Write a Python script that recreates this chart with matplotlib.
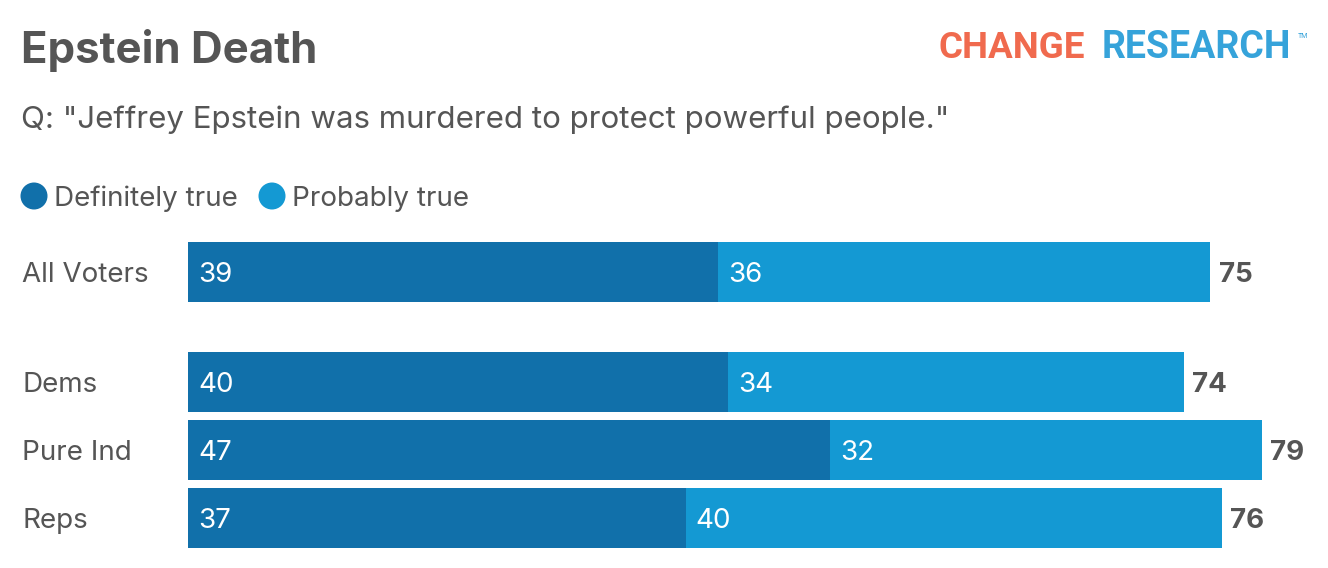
import matplotlib.pyplot as plt
from matplotlib.patches import Ellipse
from matplotlib.transforms import offset_copy

categories = ["All Voters", "Dems", "Pure Ind", "Reps"]
# bar lengths (labels below are the printed, rounded numbers)
definitely = [39.1, 39.8, 47.35, 36.7]
probably = [36.3, 33.65, 31.85, 39.55]
definitely_lbl = [39, 40, 47, 37]
probably_lbl = [36, 34, 32, 40]
totals_lbl = [75, 74, 79, 76]
series_names = ["Definitely true", "Probably true"]

DARK = "#1170aa"
LIGHT = "#1499d3"
GRAY = "#555555"
FONT = "Inter"

W, H = 1328, 568
fig = plt.figure(figsize=(W / 100, H / 100), dpi=100)

# bar rows: 68px pitch, extra 42px gap under "All Voters"
ypos = [3 + 42 / 68, 2, 1, 0]
bar_h = 60 / 68

px_per = 13.56
ax_left, ax_right = 188, 1318
ax_top, ax_bot = 242, 548
ax = fig.add_axes([ax_left / W, 1 - ax_bot / H, (ax_right - ax_left) / W, (ax_bot - ax_top) / H])
ax.set_xlim(0, (ax_right - ax_left) / px_per)
ax.set_ylim(-bar_h / 2, ypos[0] + bar_h / 2)
ax.axis("off")

ax.barh(ypos, definitely, height=bar_h, color=DARK, linewidth=0)
ax.barh(ypos, probably, left=definitely, height=bar_h, color=LIGHT, linewidth=0)

# put baselines ~10px under the row centre
tr = offset_copy(ax.transData, fig=fig, y=-10, units="dots")
for y, d, p, dl, pl, tl in zip(ypos, definitely, probably, definitely_lbl, probably_lbl, totals_lbl):
    ax.text(0.75, y, str(dl), color="white", fontsize=20, family=FONT, va="baseline", transform=tr)
    ax.text(d + 0.75, y, str(pl), color="white", fontsize=20, family=FONT, va="baseline", transform=tr)
    ax.text(d + p + 0.6, y, str(tl), color=GRAY, fontsize=20, family=FONT, fontweight="bold",
            va="baseline", transform=tr)

for y, c in zip(ypos, categories):
    ax.text(-166 / px_per, y, c, color=GRAY, fontsize=20, family=FONT, va="baseline", transform=tr)

# title / subtitle
fig.text(21 / W, 1 - 63 / H, "Epstein Death", color=GRAY, fontsize=31.5, family=FONT,
         fontweight="bold", va="baseline")
fig.text(21 / W, 1 - 128 / H, 'Q: "Jeffrey Epstein was murdered to protect powerful people."',
         color=GRAY, fontsize=22.5, family=FONT, va="baseline")

# legend
leg_x = [34, 272]
for lx, name, col in zip(leg_x, series_names, [DARK, LIGHT]):
    fig.patches.append(Ellipse((lx / W, 1 - 196 / H), 27 / W, 27 / H, transform=fig.transFigure,
                               color=col, linewidth=0))
    fig.text((lx + 20) / W, 1 - 206 / H, name, color=GRAY, fontsize=20, family=FONT,
             va="baseline")

# logo
fig.text(939 / W, 1 - 58 / H, "CHANGE", color="#f06a4e", fontsize=26.5, family="Roboto",
         fontweight="bold", va="baseline")
fig.text(1102 / W, 1 - 58 / H, "RESEARCH", color="#36a3da", fontsize=27, family="Roboto",
         fontweight="bold", va="baseline")
fig.text(1298 / W, 1 - 38 / H, "TM", color="#36a3da", fontsize=5, family="Roboto",
         va="baseline")

fig.savefig("out.png", dpi=100)
